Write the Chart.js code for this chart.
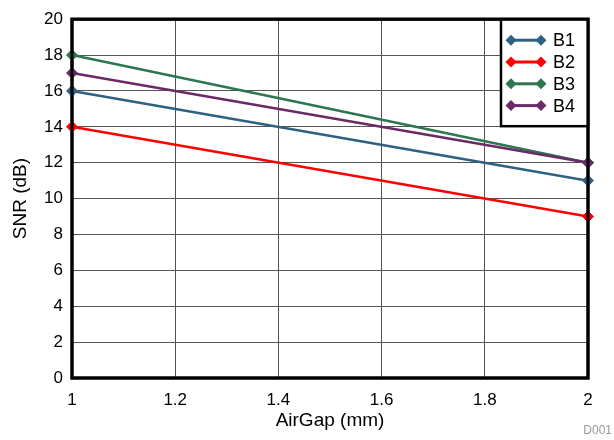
<!DOCTYPE html>
<html><head><meta charset="utf-8">
<script src="https://cdn.jsdelivr.net/npm/chart.js@4/dist/chart.umd.min.js"></script>
<style>html,body{margin:0;padding:0;background:#fff}#wrap{width:614px;height:440px}</style>
</head><body><div id="wrap"><canvas id="c" width="614" height="440"></canvas></div>
<script>
const airGap = [1, 2];
const seriesNames = ['B1', 'B2', 'B3', 'B4'];
const b1 = [16, 11];
const b2 = [14, 9];
const b3 = [18, 12];
const b4 = [17, 12];
const seriesColors = ['#2F6180', '#FF0000', '#2D7650', '#6A2A68'];
const xTicks = [1, 1.2, 1.4, 1.6, 1.8, 2];
const yTicks = [0, 2, 4, 6, 8, 10, 12, 14, 16, 18, 20];

const FONT = 'Liberation Sans, Arial, sans-serif';
const allSeries = [b1, b2, b3, b4];
const datasets = allSeries.map((s, i) => ({
  label: seriesNames[i],
  data: s.map((v, j) => ({x: airGap[j], y: v})),
  borderColor: seriesColors[i],
  backgroundColor: seriesColors[i],
  borderWidth: 2.5,
  pointStyle: 'rectRot',
  pointRadius: 5.5,
  pointHoverRadius: 5.5,
  pointBorderWidth: 1,
  tension: 0,
  clip: false,
  order: allSeries.length - i
}));

const frameAndLegend = {
  id: 'frameAndLegend',
  beforeDatasetsDraw(chart) {
    const {ctx, chartArea: a} = chart;
    ctx.save();
    ctx.strokeStyle = '#000';
    ctx.lineWidth = 3;
    ctx.strokeRect(a.left, a.top, a.right - a.left, a.bottom - a.top);
    ctx.restore();
  },
  afterDatasetsDraw(chart) {
    const {ctx, chartArea: a} = chart;
    ctx.save();
    const bx = a.right - 87, by = a.top, bw = 87, bh = 107;
    ctx.fillStyle = '#fff';
    ctx.fillRect(bx, by, bw, bh);
    ctx.strokeStyle = '#000';
    ctx.lineWidth = 2.5;
    ctx.strokeRect(bx, by, bw, bh);
    chart.data.datasets.forEach((ds, i) => {
      const y = by + 21 + i * 21.8;
      const x1 = bx + 10, x2 = bx + 40;
      ctx.strokeStyle = ds.borderColor;
      ctx.fillStyle = ds.borderColor;
      ctx.lineWidth = 3;
      ctx.beginPath(); ctx.moveTo(x1, y); ctx.lineTo(x2, y); ctx.stroke();
      [x1, x2].forEach(x => {
        ctx.beginPath();
        ctx.moveTo(x, y - 5.5); ctx.lineTo(x + 5.5, y); ctx.lineTo(x, y + 5.5); ctx.lineTo(x - 5.5, y);
        ctx.closePath(); ctx.fill();
      });
      ctx.fillStyle = '#000';
      ctx.font = '18px ' + FONT;
      ctx.textBaseline = 'middle';
      ctx.textAlign = 'left';
      ctx.fillText(ds.label, bx + 52, y + 1);
    });
    ctx.strokeStyle = '#000';
    ctx.lineWidth = 3;
    ctx.strokeRect(a.left, a.top, a.right - a.left, a.bottom - a.top);
    ctx.fillStyle = '#999';
    ctx.font = '12px ' + FONT;
    ctx.textAlign = 'right';
    ctx.textBaseline = 'alphabetic';
    ctx.fillText('D001', 612, 434);
    ctx.restore();
  }
};

new Chart(document.getElementById('c'), {
  type: 'line',
  data: {datasets},
  plugins: [frameAndLegend],
  options: {
    responsive: false,
    animation: false,
    events: [],
    layout: {padding: {left: 0, top: 14, right: 26, bottom: 0}},
    plugins: {legend: {display: false}, tooltip: {enabled: false}},
    scales: {
      x: {
        type: 'linear', min: 1, max: 2,
        afterBuildTicks(s) { s.ticks = xTicks.map(v => ({value: v})); },
        afterFit(s) { s.height = 62; },
        grid: {color: '#555', lineWidth: 1, drawTicks: false},
        border: {display: false},
        ticks: {color: '#000', font: {size: 17, family: FONT}, padding: 12, maxRotation: 0,
          callback: v => String(Math.round(v * 10) / 10)},
        title: {display: true, text: 'AirGap (mm)', color: '#000', font: {size: 19, family: FONT}, padding: {top: 0, bottom: 8}}
      },
      y: {
        type: 'linear', min: 0, max: 20,
        afterBuildTicks(s) { s.ticks = yTicks.map(v => ({value: v})); },
        afterFit(s) { s.width = 72; },
        grid: {color: '#555', lineWidth: 1, drawTicks: false},
        border: {display: false},
        ticks: {color: '#000', font: {size: 17, family: FONT}, padding: 9},
        title: {display: true, text: 'SNR (dB)', color: '#000', font: {size: 19, family: FONT}, padding: {top: 9, bottom: 0}}
      }
    }
  }
});
</script></body></html>
